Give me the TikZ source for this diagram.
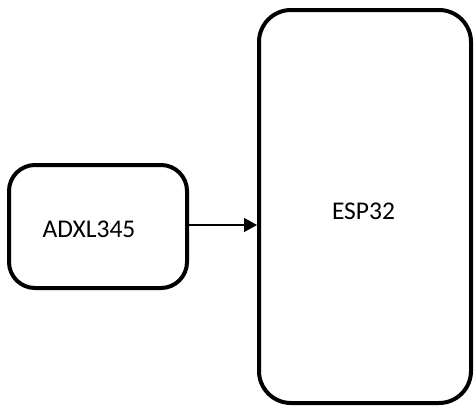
\documentclass[tikz,border=0pt]{standalone}
\usepackage{fontspec}
\setmainfont{Carlito}
\usetikzlibrary{arrows.meta}
\begin{document}
\begin{tikzpicture}[x=1pt,y=-1pt]
	\tikzstyle{every node}=[font=\fontsize{25.5pt}{30pt}\selectfont]
	\tikzset{block/.style={draw, line width=4pt, rounded corners=26pt, inner sep=0pt}}
	\useasboundingbox (0,0) rectangle (474,408);
	% sensor
	\draw [block] (9,165) rectangle (187,288);
	\node [inner sep=0pt] (adxl) at (89,229) {ADXL345};
	\coordinate (adxlout) at (187,225);
	% controller
	\draw [block, rounded corners=32pt] (259,10) rectangle (471,403);
	\node [inner sep=0pt] (esp) at (363.5,211) {ESP32};
	\coordinate (espin) at (257,225);
	% link
	\draw [line width=1.3pt, -{Triangle[length=13pt, width=14pt]}] (adxlout) -- (espin);
\end{tikzpicture}
\end{document}
